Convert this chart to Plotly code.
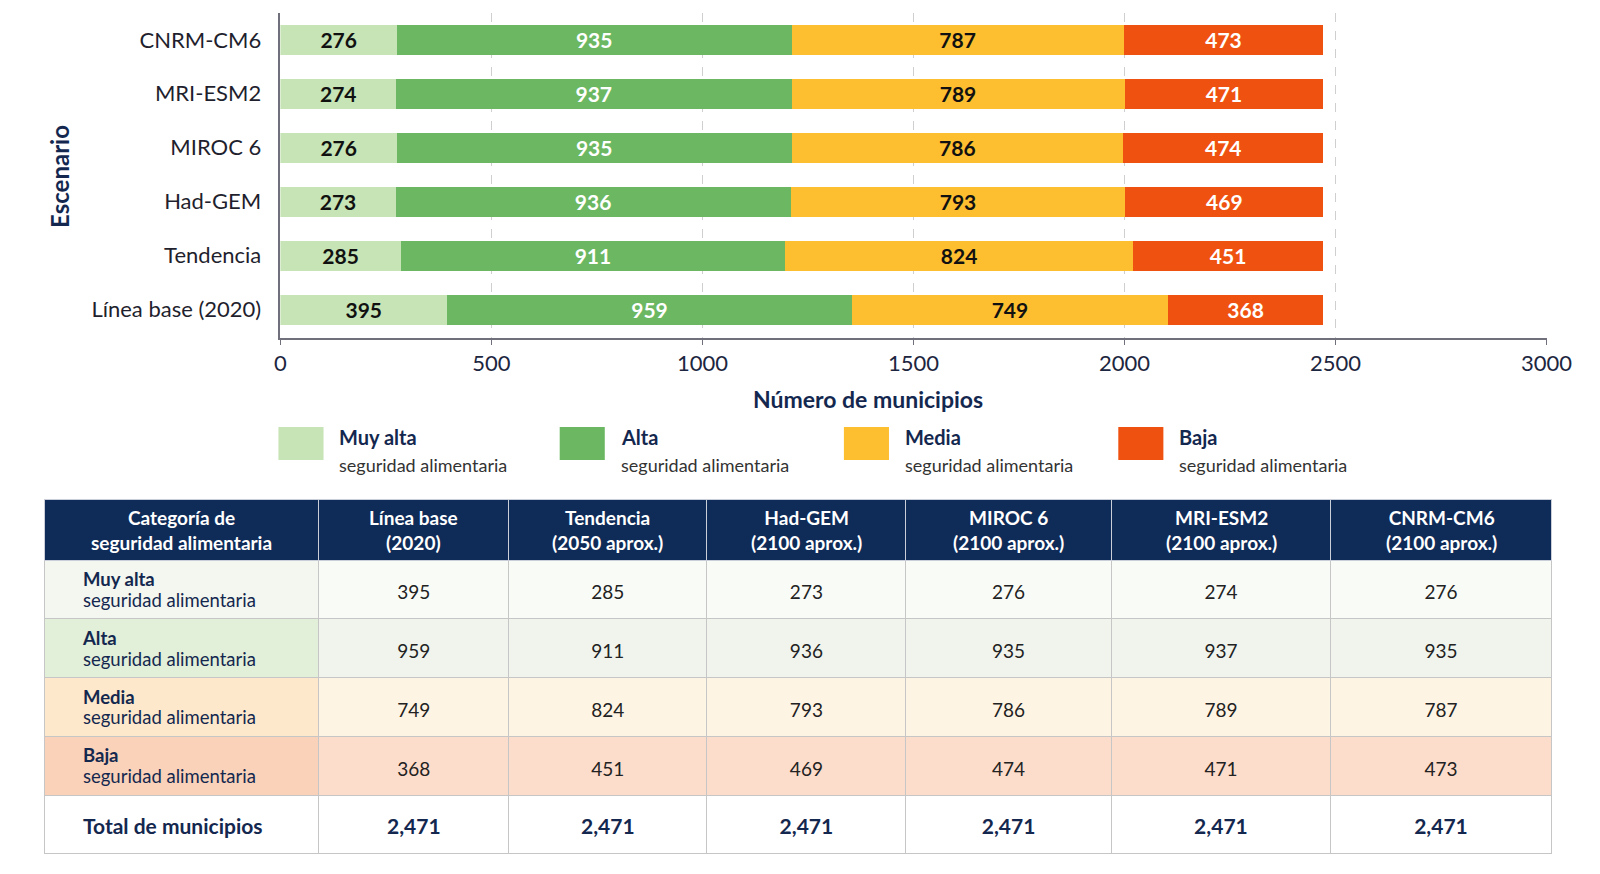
import plotly.graph_objects as go

# scenarios, bottom to top on the chart / left to right in the table
scenarios = ["Línea base (2020)", "Tendencia", "Had-GEM", "MIROC 6", "MRI-ESM2", "CNRM-CM6"]
table_headers = ["Categoría de<br>seguridad alimentaria", "Línea base<br>(2020)", "Tendencia<br>(2050 aprox.)",
                 "Had-GEM<br>(2100 aprox.)", "MIROC 6<br>(2100 aprox.)", "MRI-ESM2<br>(2100 aprox.)",
                 "CNRM-CM6<br>(2100 aprox.)"]

muy_alta = [395, 285, 273, 276, 274, 276]
alta = [959, 911, 936, 935, 937, 935]
media = [749, 824, 793, 786, 789, 787]
baja = [368, 451, 469, 474, 471, 473]

categories = ["Muy alta", "Alta", "Media", "Baja"]
x_ticks = [0, 500, 1000, 1500, 2000, 2500, 3000]

NAVY = "#14284f"
COLORS = ["#c6e4b5", "#6cb862", "#fdbf30", "#ef5210"]
LABEL_COLORS = ["#111111", "white", "#111111", "white"]
FONT = "Lato"

W, H = 1600, 874


def px(x):
    return x / W


def py(y):
    return 1 - y / H


def sized(txt, size):
    return f'<span style="font-size:{size}px">{txt}</span>'


fig = go.Figure()

series = [muy_alta, alta, media, baja]
for name, vals, col, lcol in zip(categories, series, COLORS, LABEL_COLORS):
    fig.add_trace(go.Bar(
        y=scenarios, x=vals, name=name, orientation="h",
        marker=dict(color=col, line=dict(width=0)),
        text=[str(v) for v in vals], textposition="inside", insidetextanchor="middle",
        textfont=dict(family=FONT, size=21, color=lcol, weight="bold"),
        constraintext="none", showlegend=False, width=0.55,
    ))

fig.update_layout(
    barmode="stack",
    autosize=True,
    margin=dict(l=0, r=0, t=0, b=0),
    paper_bgcolor="white", plot_bgcolor="white",
    font=dict(family=FONT, color="#222222"),
    xaxis=dict(
        domain=[px(280), px(1572)], range=[0, 3000], tickvals=x_ticks,
        showgrid=True, gridcolor="#cfcfcf", griddash="dash", gridwidth=1,
        showline=True, linecolor="#70707c", linewidth=1.5,
        ticks="outside", ticklen=5, tickcolor="#70707c",
        tickfont=dict(size=22, color="#1d2640", family=FONT), zeroline=False,
    ),
    yaxis=dict(
        domain=[py(338), py(12.8)], range=[-0.523, 5.5],
        showline=True, linecolor="#70707c", linewidth=1.5,
        showgrid=False, ticks="", ticklabelstandoff=13,
        tickfont=dict(size=22, color="#1f1f2e", family=FONT),
    ),
)

annotations = [
    dict(text="<b>Número de municipios</b>", x=px(880), y=py(399), xref="paper", yref="paper",
         xanchor="center", yanchor="middle", showarrow=False, font=dict(size=23, color=NAVY, family=FONT)),
    dict(text="<b>Escenario</b>", x=px(54), y=py(176), xref="paper", yref="paper", textangle=-90,
         xanchor="center", yanchor="middle", showarrow=False, font=dict(size=24, color=NAVY, family=FONT)),
]

# custom legend: swatch + two-line label
legend_x = [278, 565, 855, 1135]
shapes = []
for lx, name, col in zip(legend_x, categories, COLORS):
    shapes.append(dict(type="rect", xref="paper", yref="paper",
                       x0=px(lx), x1=px(lx + 46), y0=py(460), y1=py(427),
                       fillcolor=col, line=dict(width=0)))
    annotations.append(dict(text=f"<b>{name}</b>", x=px(lx + 60), y=py(437), xref="paper", yref="paper",
                            xanchor="left", yanchor="middle", showarrow=False,
                            font=dict(size=20, color=NAVY, family=FONT)))
    annotations.append(dict(text="seguridad alimentaria", x=px(lx + 60), y=py(465), xref="paper", yref="paper",
                            xanchor="left", yanchor="middle", showarrow=False,
                            font=dict(size=18, color="#333333", family=FONT)))

# table below the chart
TBL_X0, TBL_X1, TBL_Y0, TBL_Y1 = 39, 1577, 499, 856
HEAD_H = 61
col_widths = [269, 186, 194, 195, 201, 215, 216]

# header labels as centred annotations over the navy header band
total_w = sum(col_widths)
left = TBL_X0
for h, cw in zip(table_headers, col_widths):
    w = cw / total_w * (TBL_X1 - TBL_X0)
    annotations.append(dict(text=f"<b>{h}</b>", x=px(left + w / 2), y=py(TBL_Y0 + HEAD_H / 2),
                            xref="paper", yref="paper", xanchor="center", yanchor="middle",
                            showarrow=False, align="center",
                            font=dict(size=19, color="white", family=FONT)))
    left += w

fig.update_layout(annotations=annotations, shapes=shapes)

pad = "\u00a0" * 15
first_col = [f"<br>{pad}{sized('<b>' + c + '</b>', 18.5)}<br><br>{pad}{sized('seguridad alimentaria', 18.5)}"
             for c in categories]
first_col.append(f"<br><br><br>{pad}{sized('<b>Total de municipios</b>', 21)}")
columns = [first_col]
for i in range(len(scenarios)):
    vals = [muy_alta[i], alta[i], media[i], baja[i]]
    cells = [f"<br><br><br>{sized(v, 19)}" for v in vals]
    cells.append(f"<br><br><br>{sized('<b>' + format(sum(vals), ',') + '</b>', 21)}")
    columns.append(cells)

first_fill = ["#f3f7ef", "#e2efd9", "#fde8cc", "#f9d2b9", "white"]
other_fill = ["#f9fbf7", "#f0f4ed", "#fef4e4", "#fcdccb", "white"]
fills = [first_fill] + [other_fill] * len(scenarios)

first_font_col = [NAVY] * 5
other_font_col = ["#222222"] * 4 + [NAVY]

fig.add_trace(go.Table(
    domain=dict(x=[px(TBL_X0), px(TBL_X1)], y=[py(TBL_Y1), py(TBL_Y0)]),
    columnwidth=col_widths,
    header=dict(
        values=[""] * len(col_widths),
        fill_color="#0f2b58", line=dict(color="#c9ced8", width=1),
        font=dict(color="white", size=17, family=FONT), align="center", height=HEAD_H,
    ),
    cells=dict(
        values=columns, fill_color=fills,
        line=dict(color="#c6c6c6", width=1),
        font=dict(color=[first_font_col] + [other_font_col] * len(scenarios), size=8, family=FONT),
        align=["left"] + ["center"] * len(scenarios), height=58.7,
    ),
))

fit_page = (
    "document.documentElement.style.margin='0';"
    "document.body.style.margin='0';"
    "document.body.style.overflow='hidden';"
    "Plotly.Plots.resize(document.getElementById('{plot_id}'));"
)
fig.write_html("out.html", config={"displayModeBar": False},
               default_width="100vw", default_height="100vh", post_script=fit_page)
